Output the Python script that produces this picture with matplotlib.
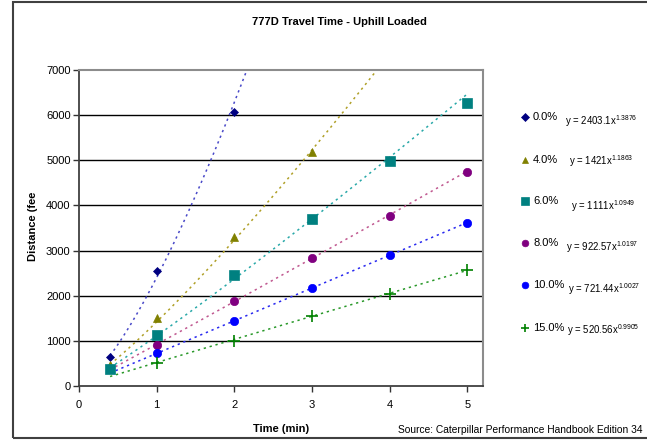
import numpy as np
import matplotlib
matplotlib.use("Agg")
import matplotlib.pyplot as plt
from matplotlib.lines import Line2D
from matplotlib.patches import Rectangle

plt.rcParams['font.family'] = ['Liberation Sans', 'DejaVu Sans']
plt.rcParams['mathtext.fontset'] = 'custom'
plt.rcParams['mathtext.rm'] = 'Liberation Sans'

# Travel time (min) vs distance (ft) for each grade
grades = ["0.0%", "4.0%", "6.0%", "8.0%", "10.0%", "15.0%"]
time_0 = [0.4, 1, 2]
dist_0 = [650, 2550, 6070]
time_4 = [0.4, 1, 2, 3]
dist_4 = [460, 1510, 3300, 5190]
time_6 = [0.4, 1, 2, 3, 4, 5]
dist_6 = [380, 1140, 2460, 3690, 4990, 6270]
time_8 = [1, 2, 3, 4, 5]
dist_8 = [910, 1880, 2840, 3770, 4750]
time_10 = [1, 2, 3, 4, 5]
dist_10 = [730, 1430, 2160, 2910, 3610]
time_15 = [1, 2, 3, 4, 5]
dist_15 = [520, 1000, 1550, 2040, 2580]

# Power trendline fits y = a * x^b
fit_a = [2403.1, 1421, 1111, 922.57, 721.44, 520.56]
fit_b = [1.3876, 1.1863, 1.0949, 1.0197, 1.0027, 0.9905]
fit_a_text = ["2403.1", "1421", "1111", "922.57", "721.44", "520.56"]
fit_b_text = ["1.3876", "1.1863", "1.0949", "1.0197", "1.0027", "0.9905"]

times = [time_0, time_4, time_6, time_8, time_10, time_15]
dists = [dist_0, dist_4, dist_6, dist_8, dist_10, dist_15]

marker_colors = ["#000080", "#808000", "#008080", "#800080", "#0000ff", "#008000"]
trend_colors = ["#4848c8", "#b0a028", "#28a8a8", "#c05890", "#2828f0", "#289828"]
markers = ["D", "^", "s", "o", "o", "+"]
msizes = [4.5, 6, 7, 6, 6, 8]

fig = plt.figure(figsize=(6.47, 4.40), dpi=100)
ax = fig.add_axes([79 / 647, 1 - 386 / 440, (483 - 79) / 647, (386 - 70) / 440])

for i in range(len(grades)):
    xs = np.linspace(0.4, 5, 200)
    ax.plot(xs, fit_a[i] * xs ** fit_b[i], linestyle=(0, (1.5, 2.5)),
            color=trend_colors[i], lw=1.1, zorder=2)
for i in range(len(grades)):
    ax.plot(times[i], dists[i], linestyle="none", marker=markers[i],
            ms=msizes[i], color=marker_colors[i], mec=marker_colors[i],
            mew=1.2 if markers[i] == "+" else 0.5, zorder=3)

ax.set_xlim(0, 5.2)
ax.set_ylim(0, 7000)
ax.set_xticks(range(0, 6))
ax.set_yticks(range(0, 7001, 1000))
ax.tick_params(axis="both", labelsize=8, length=4, width=1, color="#333333",
               direction="out")
ax.tick_params(axis="x", pad=6)
ax.tick_params(axis="y", pad=2)
for y in range(1000, 7000, 1000):
    ax.axhline(y, color="black", lw=1, zorder=1)
for side in ["top", "right"]:
    ax.spines[side].set_color("#8c8c8c")
    ax.spines[side].set_linewidth(1.5)
for side in ["left", "bottom"]:
    ax.spines[side].set_color("#404040")
    ax.spines[side].set_linewidth(1.3)

ax.set_xlabel("Time (min)", fontsize=8, fontweight="bold", labelpad=10)
fig.text(33 / 647, 1 - 226 / 440, "Distance (fee", rotation=90, fontsize=8,
         fontweight="bold", ha="center", va="center")

fig.text(339 / 647, 1 - 22 / 440, "777D Travel Time - Uphill Loaded",
         fontsize=8, fontweight="bold", ha="center", va="center")

fig.text(643 / 647, 1 - 430 / 440,
         "Source: Caterpillar Performance Handbook Edition 34",
         fontsize=7.4, ha="right", va="center")

# Legend with fitted equations
label_y = [117, 160, 201, 243, 285, 328]
eq_y = [121, 161, 206, 247, 289, 330]
eq_x = [565, 569, 571, 566, 568, 567]
for i in range(len(grades)):
    fy = 1 - label_y[i] / 440
    fig.add_artist(Line2D([525 / 647], [fy], marker=markers[i],
                          ms=msizes[i] * 0.8, color=marker_colors[i],
                          mew=1.2 if markers[i] == "+" else 0.5,
                          transform=fig.transFigure))
    fig.text(533 / 647, fy, grades[i], fontsize=8, ha="left", va="center")
    fig.text(eq_x[i] / 647, 1 - eq_y[i] / 440,
             "y = " + fit_a_text[i] + r"x$^{\mathregular{" + fit_b_text[i] + "}}$",
             fontsize=6.9, ha="left", va="center")

# Chart frame
fig.add_artist(Rectangle((13 / 647, 1 - 438 / 440), 1.0, (438 - 2) / 440,
                         fill=False, edgecolor="#404040", lw=1.5,
                         transform=fig.transFigure))

fig.savefig("out.png", dpi=100)
